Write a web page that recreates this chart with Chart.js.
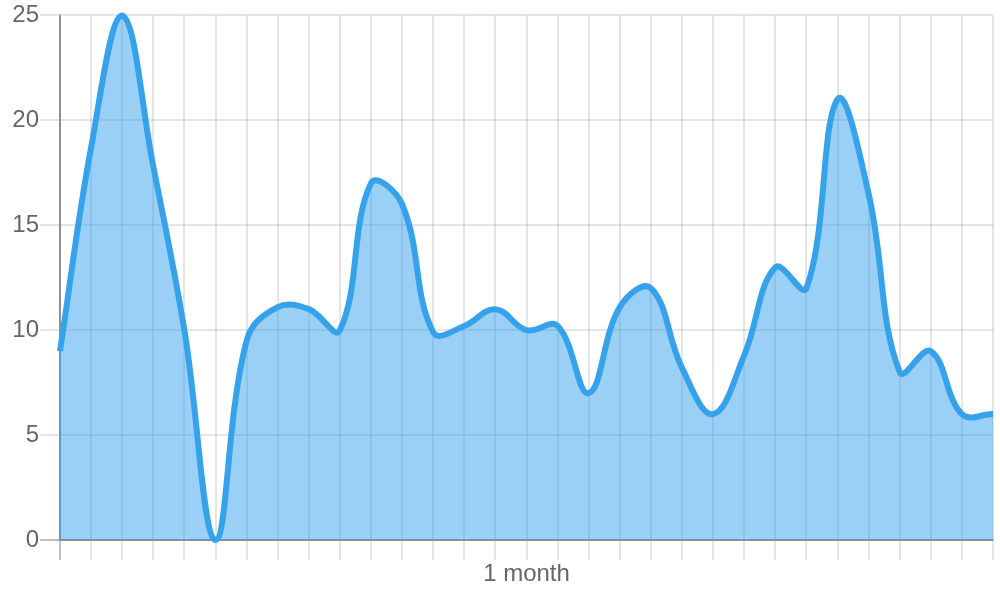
<!DOCTYPE html>
<html>
<head>
<meta charset="utf-8">
<script src="https://cdn.jsdelivr.net/npm/chart.js@4/dist/chart.umd.min.js"></script>
<style>
  html, body { margin: 0; padding: 0; background: #fff; }
  #wrap { width: 1000px; height: 600px; position: relative; }
</style>
</head>
<body>
<div id="wrap"><canvas id="chart"></canvas></div>
<script>
const days = ['1', '2', '3', '4', '5', '6', '7', '8', '9', '10', '11', '12', '13', '14', '15', '16',
  '17', '18', '19', '20', '21', '22', '23', '24', '25', '26', '27', '28', '29', '30', '31'];
const values = [9, 18.7, 25, 17.8, 10, 0, 9.5, 11.1, 11, 10, 17, 16, 9.9, 10.2, 11, 10,
  10.2, 7, 11.1, 12, 8.2, 6, 8.8, 13, 12, 21, 16.5, 8, 9, 6, 6];
const xTitle = '1 month';
const yTicks = { min: 0, max: 25, step: 5 };

const gridColor = (ctx) => ctx.index === 0 ? 'rgba(0,0,0,0.25)' : 'rgba(0,0,0,0.1)';
const textFont = { family: '"Helvetica Neue", Helvetica, Arial, "Liberation Sans", sans-serif', size: 24 };

const ctx = document.getElementById('chart').getContext('2d');
new Chart(ctx, {
  type: 'line',
  data: {
    labels: days,
    datasets: [{
      data: values,
      borderColor: 'rgb(54,162,235)',
      backgroundColor: 'rgba(54,162,235,0.5)',
      borderWidth: 6,
      fill: true,
      tension: 0.4,
      pointRadius: 0,
      clip: false
    }]
  },
  options: {
    responsive: true,
    maintainAspectRatio: false,
    animation: false,
    layout: { padding: { top: 15, right: 7, bottom: 0, left: 0 } },
    plugins: { legend: { display: false }, tooltip: { enabled: false } },
    scales: {
      x: {
        grid: { color: gridColor, lineWidth: 2, tickLength: 20 },
        border: { color: 'rgba(0,0,0,0.25)', width: 2 },
        ticks: { display: false },
        title: { display: true, text: xTitle, color: '#666', font: textFont, padding: { top: 0, bottom: 11 } },
        afterFit: (scale) => { scale.height = 60; }
      },
      y: {
        min: yTicks.min,
        max: yTicks.max,
        grid: { color: gridColor, lineWidth: 2, tickLength: 20 },
        border: { color: 'rgba(0,0,0,0.25)', width: 2 },
        ticks: { stepSize: yTicks.step, color: '#666', font: textFont, padding: 1 },
        afterFit: (scale) => { scale.width = 60; }
      }
    }
  }
});
</script>
</body>
</html>
